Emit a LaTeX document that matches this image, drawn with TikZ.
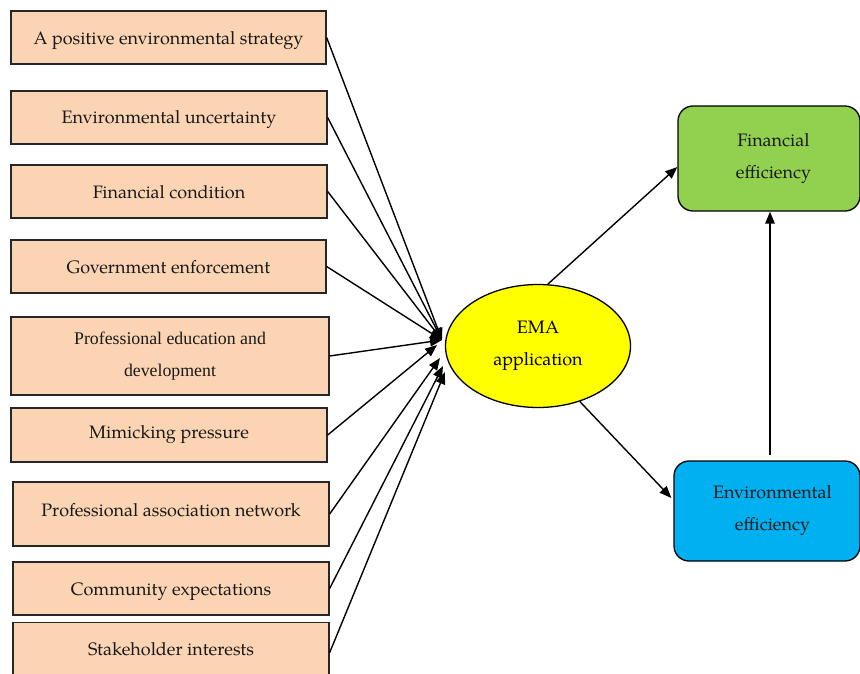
\documentclass[tikz,border=0pt]{standalone}
\usepackage{fontspec}
\setmainfont{TeX Gyre Pagella}
\newfontfamily\timesf{Liberation Serif}
\usetikzlibrary{arrows.meta,shapes.geometric}
\definecolor{peach}{HTML}{FBD4B4}
\definecolor{fingreen}{HTML}{92D050}
\definecolor{envblue}{HTML}{00B0F0}
\definecolor{emayellow}{HTML}{FFFF00}
\tikzset{
  box/.style={draw=black!85, line width=1.3pt, fill=peach, inner sep=0pt, align=center,
    font=\fontsize{18}{32}\selectfont, text=black!90},
  tbox/.style={box, font=\timesf\fontsize{17.8}{32}\selectfont},
  lift/.style={text height=#1, text depth=0pt},
  rbox/.style={draw=black, line width=1.3pt, rounded corners=15pt, inner sep=0pt, align=center,
    font=\fontsize{18}{32}\selectfont, text=black!90},
  conn/.style={line width=1.4pt, -{Triangle[length=12pt,width=9.5pt]}}
}
\begin{document}
\begin{tikzpicture}[x=1pt,y=1pt]
\useasboundingbox (0,0) rectangle (860,673);
\node[box, lift=15pt, minimum width=315, minimum height=53] (b1) at (168.5,635.5) {A positive environmental strategy};
\node[box, lift=13pt, minimum width=316, minimum height=53] (b2) at (169,555.5) {Environmental uncertainty};
\node[box, lift=15pt, minimum width=316, minimum height=53] (b3) at (169,481.5) {Financial condition};
\node[box, lift=14pt, minimum width=315, minimum height=53] (b4) at (168.5,406.5) {Government enforcement};
\node[tbox, minimum width=318, minimum height=78] (b5) at (170,317) {Professional education and\\development};
\node[box, lift=7pt, minimum width=316, minimum height=54] (b6) at (169,238) {Mimicking pressure};
\node[box, lift=5pt, minimum width=316, minimum height=64] (b7) at (171,159) {Professional association network};
\node[box, lift=13pt, minimum width=316, minimum height=53] (b8) at (171,84.5) {Community expectations};
\node[box, lift=10pt, minimum width=316, minimum height=56, anchor=north] (b9) at (171,51) {Stakeholder interests};

\node[ellipse, draw=black, line width=1.3pt, fill=emayellow, minimum width=185, minimum height=123,
  inner sep=0pt, align=center, font=\fontsize{18}{32}\selectfont] (ema) at (538,327) {EMA\\application};

\node[rbox, fill=fingreen, minimum width=182, minimum height=105] (fin) at (769,514.5) {\hspace*{9pt}Financial\\\hspace*{9pt}efficiency};
\node[rbox, fill=envblue, minimum width=186, minimum height=100] (env) at (767,162) {\hspace*{11pt}Environmental\\\hspace*{11pt}efficiency};

\coordinate (c1) at (442,333);
\coordinate (c6) at (437,328);
\coordinate (c7) at (440,315);
\coordinate (c8) at (443,307);
\coordinate (c9) at (445,301);

\draw[conn] (b1.east) -- (c1);
\draw[conn] (b2.east) -- (c1);
\draw[conn] (b3.east) -- (c1);
\draw[conn] (b4.east) -- (c1);
\draw[conn] (b5.east) -- (c1);
\draw[conn] (b6.east) -- (c6);
\draw[conn] (b7.east) -- (c7);
\draw[conn] (b8.east) -- (c8);
\draw[conn] ([yshift=-2pt]b9.east) -- (c9);

\draw[conn] (ema.81) -- ([yshift=-8.5pt]fin.west);
\draw[conn] (ema.-53) -- ([yshift=13pt,xshift=-2pt]env.west);
\draw[conn] ([yshift=5pt,xshift=1pt]fin.south |- env.north) -- ([xshift=1pt]fin.south);
\end{tikzpicture}
\end{document}
